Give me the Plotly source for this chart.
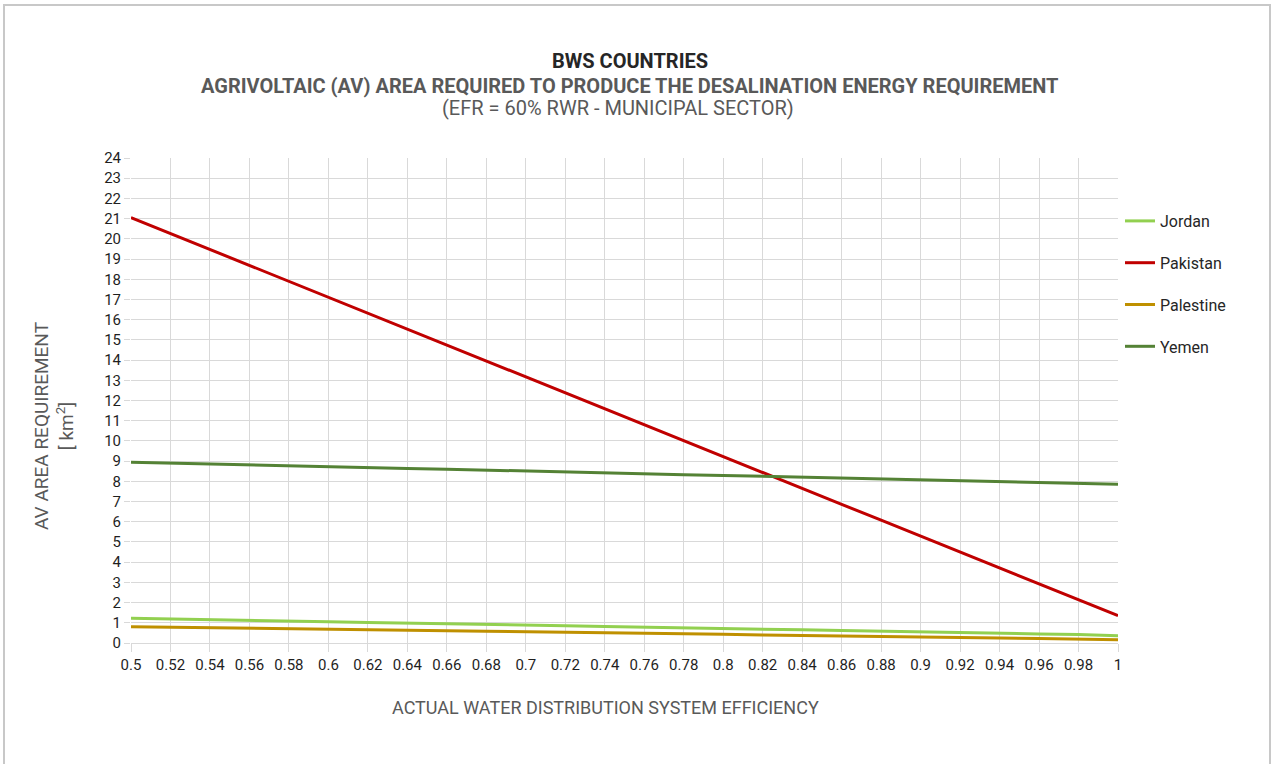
import plotly.graph_objects as go

# Distribution system efficiency (category axis)
efficiency = ["0.5", "0.52", "0.54", "0.56", "0.58", "0.6", "0.62", "0.64", "0.66",
              "0.68", "0.7", "0.72", "0.74", "0.76", "0.78", "0.8", "0.82", "0.84",
              "0.86", "0.88", "0.9", "0.92", "0.94", "0.96", "0.98", "1"]

# AV area requirement [km2]
jordan = [1.22, 1.18, 1.15, 1.12, 1.08, 1.05, 1.02, 0.98, 0.95, 0.92, 0.88, 0.85,
          0.82, 0.78, 0.75, 0.72, 0.68, 0.65, 0.62, 0.58, 0.55, 0.52, 0.48, 0.45,
          0.42, 0.36]
pakistan = [21.05, 20.26, 19.47, 18.68, 17.90, 17.11, 16.32, 15.53, 14.74, 13.96,
            13.17, 12.38, 11.59, 10.80, 10.02, 9.23, 8.44, 7.65, 6.86, 6.08, 5.29,
            4.50, 3.71, 2.92, 2.14, 1.35]
palestine = [0.80, 0.78, 0.76, 0.73, 0.71, 0.68, 0.66, 0.63, 0.61, 0.58, 0.56, 0.53,
             0.50, 0.48, 0.45, 0.43, 0.40, 0.38, 0.35, 0.33, 0.30, 0.28, 0.25, 0.22,
             0.20, 0.16]
yemen = [8.95, 8.90, 8.85, 8.80, 8.78, 8.73, 8.68, 8.63, 8.60, 8.55, 8.50, 8.46,
         8.42, 8.38, 8.33, 8.29, 8.25, 8.20, 8.16, 8.12, 8.08, 8.04, 7.99, 7.95,
         7.90, 7.86]

series = [
    ("Jordan", jordan, "#92d050"),
    ("Pakistan", pakistan, "#c00000"),
    ("Palestine", palestine, "#bf9000"),
    ("Yemen", yemen, "#548235"),
]

y_ticks = list(range(0, 25))

FONT = "Roboto"
W, H = 1272, 764
L, R, T, B = 131, 154, 158, 121

fig = go.Figure()
for name, vals, color in series:
    fig.add_trace(go.Scatter(
        x=efficiency, y=vals, name=name, mode="lines",
        line=dict(color=color, width=3), legendgroup=name,
    ))

pw = W - L - R
ph = H - T - B


def px_to_paper_x(px):
    return (px - L) / pw


def px_to_paper_y(py):
    return (H - B - py) / ph


fig.update_layout(
    width=W, height=H,
    margin=dict(l=L, r=R, t=T, b=B),
    paper_bgcolor="white", plot_bgcolor="white",
    font=dict(family=FONT, color="#404040"),
    showlegend=True,
    legend=dict(
        x=px_to_paper_x(1120), y=px_to_paper_y(204), xanchor="left", yanchor="top",
        font=dict(size=16, color="#262626", family=FONT),
        itemwidth=30, tracegroupgap=18, bgcolor="rgba(0,0,0,0)",
    ),
    xaxis=dict(
        type="category", range=[0, len(efficiency) - 1],
        showgrid=True, gridcolor="#d9d9d9", gridwidth=1,
        ticks="outside", ticklen=8, tickcolor="#d9d9d9",
        tickfont=dict(size=15, color="#1f1f1f", family=FONT),
        showline=True, linecolor="#d9d9d9", zeroline=False,
    ),
    yaxis=dict(
        range=[0, 24], tickmode="array", tickvals=y_ticks,
        ticktext=[str(v) for v in y_ticks],
        showgrid=True, gridcolor="#d9d9d9", gridwidth=1,
        ticks="outside", ticklen=6, tickcolor="#d9d9d9",
        tickfont=dict(size=15, color="#1f1f1f", family=FONT),
        zeroline=False, showline=False,
    ),
)

# Axis titles
fig.add_annotation(text="ACTUAL WATER DISTRIBUTION SYSTEM EFFICIENCY",
                   xref="paper", yref="paper",
                   x=px_to_paper_x(605), y=px_to_paper_y(707),
                   xanchor="center", yanchor="middle", showarrow=False,
                   font=dict(size=18, color="#595959", family=FONT))
fig.add_annotation(text="AV AREA REQUIREMENT<br>[ km<sup>2</sup>]",
                   xref="paper", yref="paper",
                   x=px_to_paper_x(54), y=px_to_paper_y(426),
                   xanchor="center", yanchor="middle", showarrow=False,
                   textangle=-90,
                   font=dict(size=19, color="#595959", family=FONT))

# Titles
fig.add_annotation(text="<b>BWS COUNTRIES</b>", xref="paper", yref="paper",
                   x=px_to_paper_x(630), y=px_to_paper_y(61),
                   xanchor="center", yanchor="middle", showarrow=False,
                   font=dict(size=20, color="#262626", family=FONT))
fig.add_annotation(text="<b>AGRIVOLTAIC (AV) AREA REQUIRED TO PRODUCE THE DESALINATION ENERGY REQUIREMENT</b>",
                   xref="paper", yref="paper",
                   x=px_to_paper_x(630), y=px_to_paper_y(86),
                   xanchor="center", yanchor="middle", showarrow=False,
                   font=dict(size=20, color="#595959", family=FONT))
fig.add_annotation(text="(EFR = 60% RWR - MUNICIPAL SECTOR)", xref="paper", yref="paper",
                   x=px_to_paper_x(618), y=px_to_paper_y(108),
                   xanchor="center", yanchor="middle", showarrow=False,
                   font=dict(size=20, color="#595959", family=FONT))

# Outer frame
fig.add_shape(type="rect", xref="paper", yref="paper",
              x0=px_to_paper_x(4), x1=px_to_paper_x(1270),
              y0=px_to_paper_y(775), y1=px_to_paper_y(5),
              line=dict(color="#c8c8c8", width=2), layer="below")

fig.write_html("out.html")
